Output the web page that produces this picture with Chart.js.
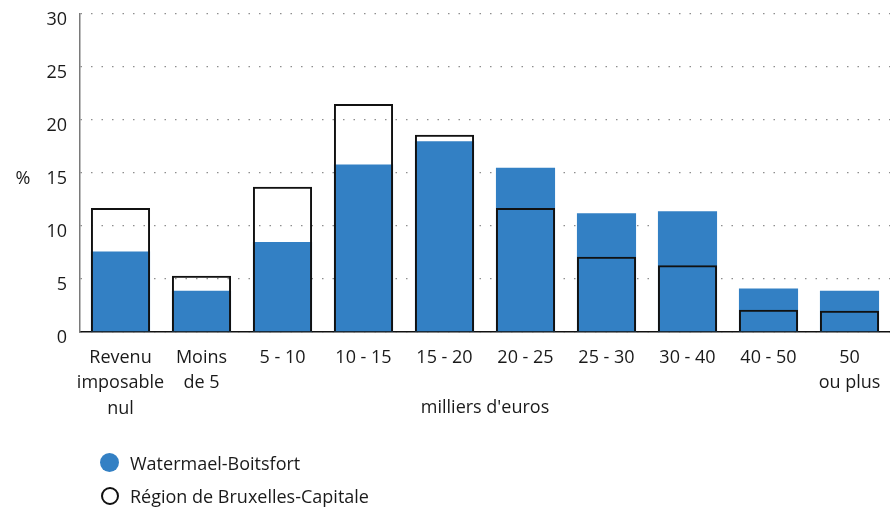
<!DOCTYPE html>
<html>
<head>
<meta charset="utf-8">
<script src="https://cdn.jsdelivr.net/npm/chart.js@4/dist/chart.umd.min.js"></script>
<style>
  html, body { margin: 0; padding: 0; background: #fff; }
  #wrap { position: relative; width: 890px; height: 508px; }
  #chart { position: absolute; left: 0; top: 0; }
  .legend { position: absolute; left: 100px; top: 446px; font: 18px "Open Sans", sans-serif; color: #1a1a1a; }
  .legend div { display: flex; align-items: center; height: 33px; }
  .dot { display: inline-block; box-sizing: border-box; width: 19px; height: 19px; border-radius: 50%; margin-right: 11px; }
  .dot.wb { background: #3380c4; }
  .dot.reg { border: 2px solid #111; background: #fff; width: 18px; height: 18px; margin-left: 1px; }
</style>
</head>
<body>
<div id="wrap">
  <canvas id="chart" width="890" height="508"></canvas>
  <div class="legend">
    <div><span class="dot wb"></span>Watermael-Boitsfort</div>
    <div><span class="dot reg"></span>Région de Bruxelles-Capitale</div>
  </div>
</div>
<script>
const categories = [
    ['Revenu', 'imposable', 'nul'],
    ['Moins', 'de 5'],
    '5 - 10', '10 - 15', '15 - 20', '20 - 25', '25 - 30', '30 - 40', '40 - 50',
    ['50', 'ou plus']
];
const watermael = [7.6, 3.9, 8.5, 15.8, 18.0, 15.5, 11.2, 11.4, 4.1, 3.9];
const region = [11.7, 5.3, 13.7, 21.5, 18.6, 11.7, 7.1, 6.3, 2.1, 2.0];
const yTicks = [0, 5, 10, 15, 20, 25, 30];

const textColor = '#1a1a1a';
const font = { family: '"Open Sans", sans-serif', size: 18 };

// "%" beside the y axis and the unit under the category labels
const axisNotes = {
    id: 'axisNotes',
    afterDraw(chart) {
        const { ctx, chartArea } = chart;
        ctx.save();
        ctx.fillStyle = textColor;
        ctx.font = '18px "Open Sans", sans-serif';
        ctx.textAlign = 'center';
        ctx.textBaseline = 'middle';
        ctx.fillText('%', 23, 179);
        ctx.fillText("milliers d'euros", (chartArea.left + chartArea.right) / 2, 408);
        ctx.restore();
    }
};

new Chart(document.getElementById('chart'), {
    type: 'bar',
    data: {
        labels: categories,
        datasets: [
            {
                label: 'Watermael-Boitsfort',
                data: watermael,
                backgroundColor: '#3380c4',
                borderWidth: 0,
                grouped: false,
                order: 2
            },
            {
                label: 'Région de Bruxelles-Capitale',
                data: region,
                backgroundColor: 'rgba(0,0,0,0)',
                borderColor: '#111',
                borderWidth: 2,
                grouped: false,
                order: 1
            }
        ]
    },
    options: {
        responsive: false,
        animation: false,
        barPercentage: 0.73,
        categoryPercentage: 1,
        layout: { padding: { top: 14, right: 0, left: 0, bottom: 0 } },
        plugins: {
            legend: { display: false },
            tooltip: { enabled: false }
        },
        scales: {
            x: {
                grid: { display: false },
                border: { display: true, color: '#111', width: 1.5 },
                ticks: {
                    color: textColor,
                    font: { ...font, lineHeight: 1.42 },
                    padding: 5,
                    maxRotation: 0,
                    autoSkip: false
                },
                afterFit(scale) {
                    scale.height = 176;
                    scale.paddingLeft = 0;
                    scale.paddingRight = 0;
                }
            },
            y: {
                min: 0,
                max: 30,
                afterBuildTicks(scale) { scale.ticks = yTicks.map(v => ({ value: v })); },
                grid: { color: '#8e8e8e', lineWidth: 1.3, drawTicks: false },
                border: { display: true, color: '#7a7a7a', width: 1.5, dash: [1.5, 9] },
                ticks: { color: textColor, font: font, padding: 13, labelOffset: 6 },
                afterFit(scale) {
                    scale.width = 80;
                    scale.paddingTop = 0;
                    scale.paddingBottom = 0;
                }
            }
        }
    },
    plugins: [axisNotes]
});
</script>
</body>
</html>
